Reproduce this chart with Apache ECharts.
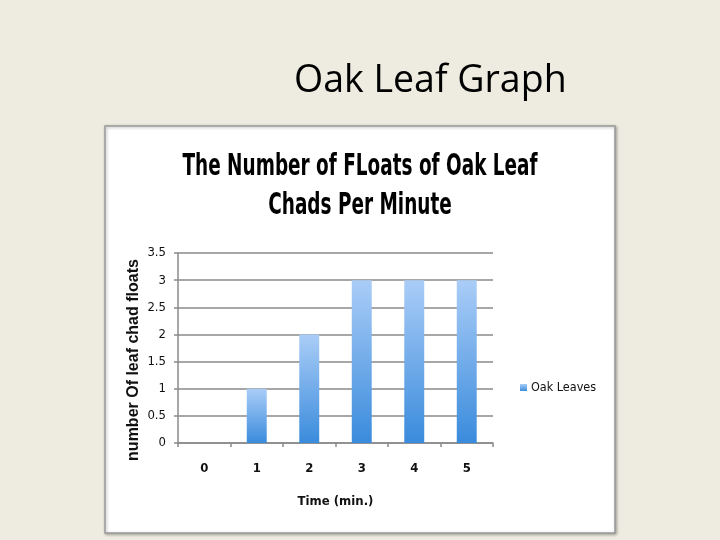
<!DOCTYPE html>
<html>
<head>
<meta charset="utf-8">
<script src="https://cdn.jsdelivr.net/npm/echarts@6/dist/echarts.min.js"></script>
<style>
html,body{margin:0;padding:0;background:#EEECE1;}
#c{width:720px;height:540px;}
</style>
</head>
<body>
<div id="c"></div>
<script>
var categories = ['0', '1', '2', '3', '4', '5'];
var oakLeaves = [0, 1, 2, 3, 3, 3];
var yTicks = [0, 0.5, 1, 1.5, 2, 2.5, 3, 3.5];
var seriesName = 'Oak Leaves';
var slideTitle = 'Oak Leaf Graph';
var chartTitle = 'The Number of FLoats of Oak Leaf\nChads Per Minute';
var xName = 'Time (min.)';
var yName = 'number Of leaf chad floats';

var narrow = "'DejaVu Sans Condensed', 'Liberation Sans Narrow', sans-serif";
var chart = echarts.init(document.getElementById('c'));
chart.setOption({
  backgroundColor: '#EEECE1',
  animation: false,
  title: {
    text: slideTitle,
    left: 289, top: 57,
    textStyle: {fontFamily: "'Open Sans', sans-serif", fontSize: 37.5, fontWeight: 'normal', color: '#000'}
  },
  graphic: [
    {type: 'rect', z: -10, shape: {x: 105, y: 126, width: 510, height: 407},
     style: {fill: '#fff', stroke: '#9a9a9a', lineWidth: 1.5, shadowBlur: 3, shadowColor: 'rgba(0,0,0,0.3)', shadowOffsetX: 1, shadowOffsetY: 1}},
    {type: 'text', x: 360, y: 148, scaleY: 1.45, z: 10,
     style: {text: chartTitle, fill: '#000', textAlign: 'center', textVerticalAlign: 'top',
             font: "bold 20.5px " + narrow, lineHeight: 27}}
  ],
  legend: {
    data: [seriesName],
    left: 515, top: 376,
    itemWidth: 7, itemHeight: 7, itemGap: 4,
    icon: 'rect',
    textStyle: {fontFamily: narrow, fontSize: 12.5, color: '#111', padding: [0,0,0,-1]}
  },
  grid: {left: 178, right: 227, top: 253, bottom: 97, containLabel: false},
  xAxis: {
    type: 'category',
    data: categories,
    name: xName, nameLocation: 'middle', nameGap: 52,
    nameTextStyle: {fontFamily: narrow, fontWeight: 'bold', fontSize: 13, color: '#111'},
    axisLine: {lineStyle: {color: '#8a8a8a', width: 1.5}},
    axisTick: {show: true, length: 4, lineStyle: {color: '#8a8a8a', width: 1.5}},
    axisLabel: {fontFamily: narrow, fontSize: 13, color: '#111', margin: 19, fontWeight: 'bold'}
  },
  yAxis: {
    type: 'value', min: 0, max: 3.5, interval: 0.5,
    name: yName, nameLocation: 'middle', nameGap: 36, nameRotate: 90,
    nameTextStyle: {fontFamily: "'Liberation Sans', Arial, sans-serif", fontWeight: 'bold', fontSize: 16, color: '#111', padding: [0, 24, 0, 0]},
    axisLine: {show: true, lineStyle: {color: '#8a8a8a', width: 1.5}},
    axisTick: {show: true, length: 4, lineStyle: {color: '#8a8a8a', width: 1.5}},
    splitLine: {lineStyle: {color: '#8a8a8a', width: 1.5}},
    axisLabel: {fontFamily: narrow, fontSize: 13, color: '#111', margin: 12,
      formatter: function (v) { return yTicks.indexOf(v) >= 0 ? String(v) : ''; }}
  },
  series: [{
    name: seriesName,
    type: 'bar',
    data: oakLeaves,
    barWidth: '38%',
    itemStyle: {
      color: new echarts.graphic.LinearGradient(0, 0, 0, 1, [
        {offset: 0, color: '#aacdf7'},
        {offset: 1, color: '#3a8bdc'}
      ])
    }
  }]
});
</script>
</body>
</html>
